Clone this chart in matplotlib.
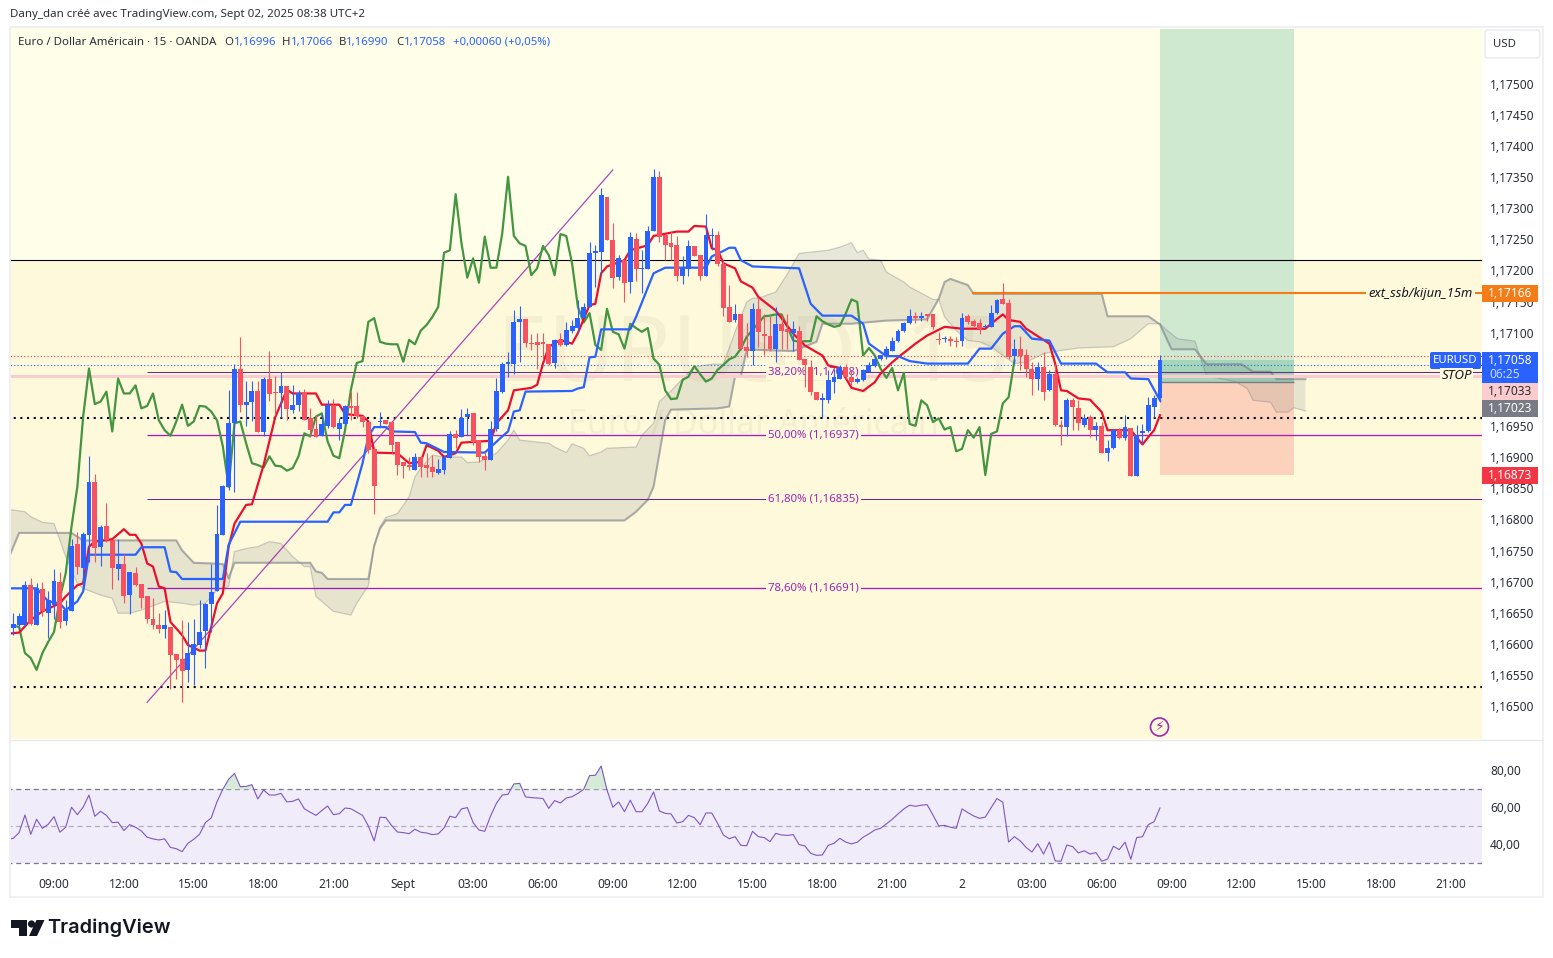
import numpy as np
import matplotlib
matplotlib.use('Agg')
import matplotlib.pyplot as plt
from matplotlib.patches import Rectangle, FancyBboxPatch, Polygon, Circle
from matplotlib.transforms import ScaledTranslation

W, H = 1553, 958

# EURUSD 15 min, prices x 1e5
open_ = [116628,116632,116632,116696,116632,116690,116652,116664,116701,116639,
116655,116762,116724,116777,116862,116758,116791,116769,116722,116730,
116680,116716,116698,116679,116642,116632,116626,116629,116586,116578,
116560,116584,116600,116622,116666,116687,116776,116854,116956,117043,
116986,116990,117008,116942,117027,117006,117004,117016,116978,116986,
117005,116965,116947,116935,116952,116984,116947,116955,116984,116984,
116968,116958,116914,116958,116961,116958,116926,116894,116889,116881,
116902,116889,116886,116876,116881,116900,116939,116934,116966,116973,
116929,116903,116897,116947,117006,117052,117052,117119,117124,117085,
117087,117086,117083,117053,117090,117082,117104,117109,117125,117143,
117230,117231,117320,117250,117191,117218,117183,117252,117204,117204,
117265,117352,117258,117246,117242,117193,117204,117241,117226,117193,
117257,117258,117212,117143,117122,117132,117079,117072,117140,117100,
117097,117076,117115,117107,117101,117105,117059,117046,117007,116994,
116994,117023,117028,117046,117030,117022,117025,117039,117048,117060,
117064,117073,117088,117104,117117,117128,117125,117131,117131,117091,
117091,117091,117089,117088,117128,117120,117117,117110,117110,117133,
117155,117149,117064,117076,117065,117044,117028,117046,117009,117036,
116954,116950,116993,116980,116954,116966,116945,116951,116909,116916,
116946,116932,116948,116871,116940,116943,116983,116996]
close = [116634,116646,116697,116634,116691,116654,116672,116703,116637,116657,
116759,116725,116778,116862,116756,116790,116768,116724,116730,116679,
116717,116696,116676,116642,116632,116626,116632,116584,116576,116558,
116587,116602,116621,116666,116685,116778,116855,116956,117043,116986,
116990,117008,116942,117027,117003,117005,117016,116979,116986,117004,
116961,116945,116934,116955,116986,116950,116957,116984,116980,116968,
116958,116913,116856,116959,116955,116921,116889,116887,116886,116902,
116886,116885,116878,116883,116902,116939,116933,116965,116971,116926,
116902,116897,116947,117008,117051,117054,117119,117124,117085,117083,
117082,117083,117051,117090,117082,117106,117112,117125,117143,117230,
117233,117323,117250,117189,117222,117181,117255,117204,117206,117265,
117352,117256,117242,117239,117193,117206,117241,117225,117193,117258,
117258,117212,117142,117119,117132,117076,117072,117140,117102,117096,
117075,117115,117105,117103,117107,117058,117049,117006,116993,116996,
117025,117030,117046,117030,117022,117028,117041,117049,117059,117065,
117075,117089,117105,117117,117128,117126,117129,117129,117110,117090,
117093,117089,117087,117126,117118,117113,117107,117112,117133,117154,
117147,117062,117076,117064,117043,117028,117046,117007,117036,116953,
116950,116993,116982,116956,116964,116945,116951,116909,116916,116945,
116932,116950,116872,116938,116943,116985,116996,117058]
high = [116651,116651,116703,116707,116700,116701,116686,116722,116717,116672,
116771,116782,116782,116904,116875,116792,116828,116769,116770,116746,
116717,116726,116698,116679,116676,116651,116657,116629,116586,116640,
116637,116641,116672,116668,116730,116825,116857,117010,117051,117095,
117024,117024,117024,117030,117072,117032,117038,117016,117018,117009,
117011,116981,116970,116971,116994,116995,116964,116985,117007,117007,
116968,116958,116920,116975,116962,116958,116926,116894,116902,116908,
116902,116908,116905,116899,116905,116943,116945,116979,116981,116973,
116929,116910,116960,117029,117054,117070,117138,117144,117124,117099,
117101,117101,117083,117091,117101,117119,117122,117154,117150,117247,
117242,117334,117320,117277,117226,117218,117263,117261,117234,117273,
117365,117361,117258,117265,117257,117224,117250,117241,117226,117292,
117269,117265,117218,117178,117148,117132,117117,117150,117159,117132,
117129,117143,117132,117132,117121,117113,117059,117057,117007,117004,
117041,117044,117049,117052,117041,117030,117044,117054,117065,117065,
117081,117095,117108,117119,117139,117135,117135,117132,117132,117103,
117097,117097,117094,117134,117131,117124,117124,117116,117146,117156,
117181,117156,117092,117096,117076,117054,117054,117070,117042,117052,
116962,116996,116996,116993,116971,116969,116958,116958,116929,116947,
116949,116970,116948,116953,116955,116999,117001,117066]
low = [116616,116625,116631,116632,116632,116646,116612,116641,116627,116632,
116655,116714,116691,116734,116734,116727,116766,116690,116704,116667,
116650,116694,116659,116635,116625,116619,116611,116530,116546,116509,
116541,116536,116595,116563,116621,116687,116776,116849,116846,116975,
116952,116960,116942,116936,116992,116970,116966,116961,116973,116976,
116961,116936,116934,116935,116948,116948,116929,116953,116961,116964,
116950,116908,116810,116952,116955,116907,116873,116868,116881,116881,
116870,116870,116870,116875,116875,116900,116917,116934,116937,116921,
116894,116881,116897,116944,117004,117031,117036,117054,117079,117074,
117044,117058,117050,117045,117080,117080,117101,117101,117125,117143,
117175,117194,117250,117173,117186,117151,117166,117184,117165,117204,
117265,117248,117218,117218,117184,117180,117193,117224,117187,117192,
117235,117209,117128,117118,117118,117074,117063,117050,117079,117065,
117073,117054,117076,117076,117073,117057,117014,117001,116993,116965,
116989,117004,117028,117028,117017,117021,117024,117038,117046,117057,
117060,117072,117087,117103,117116,117117,117120,117120,117107,117084,
117087,117081,117079,117080,117116,117111,117100,117110,117110,117132,
117147,117060,117052,117041,117030,117001,117009,116994,117008,116951,
116921,116935,116945,116945,116950,116934,116929,116908,116895,116915,
116931,116929,116872,116871,116923,116942,116966,116990]

tenkan_bar = [-1,0,1,3,5,8,9,11,12,13,14,17,19,20,21,22,23,24,25,26,27,29,30,32,33,35,36,37,38,40,41,43,45,47,48,52,53,56,57,60,61,62,
66,68,70,71,73,74,76,77,82,83,85,86,89,90,91,92,94,96,97,99,100,101,102,105,106,109,110,114,116,117,119,120,121,122,124,125,127,128,
131,134,136,139,140,142,144,146,148,149,151,152,155,157,160,163,167,168,170,171,173,174,178,179,180,181,183,185,187,188,192,194,195,196,197]
tenkan = [116618,116619,116620,116640,116654,116667,116678,116696,116699,116758,116766,116770,116786,116777,116777,116763,116731,116726,116694,116691,116637,116616,116600,116591,116591,116667,116683,116758,116795,116825,116826,116889,116966,117010,117004,117004,116986,116986,116971,116968,116959,116909,
116908,116892,116894,116921,116912,116902,116908,116925,116928,116956,116977,117009,117013,117018,117052,117079,117090,117084,117101,117146,117148,117197,117208,117218,117234,117242,117257,117264,117264,117273,117272,117237,117235,117213,117205,117184,117174,117159,
117137,117100,117081,117065,117049,117045,117013,117008,117022,117036,117054,117062,117084,117097,117111,117108,117108,117116,117131,117122,117119,117108,117084,117052,117009,117008,116996,116994,116974,116945,116945,116922,116934,116945,116969]

kijun_bar = [-1,4,6,8,9,11,12,13,21,22,26,27,28,29,36,37,39,54,55,56,57,58,60,61,62,64,65,69,70,71,74,81,84,85,86,87,88,96,97,98,99,100,101,106,107,110,112,119,120,122,123,124,125,127,
135,137,139,144,146,147,150,152,154,157,164,166,168,170,172,173,175,178,180,186,188,191,192,195,197]
kijun = [116691,116691,116670,116667,116656,116670,116686,116745,116745,116757,116757,116718,116717,116706,116706,116761,116798,116798,116813,116813,116825,116825,116892,116935,116950,116950,116943,116942,116925,116924,116910,116909,116935,116943,116975,116977,117007,117008,117012,117014,117062,117063,117107,117107,117127,117197,117206,117206,117224,117233,117238,117238,117218,117208,
117205,117148,117129,117129,117116,117084,117064,117064,117056,117052,117052,117076,117076,117100,117112,117112,117092,117089,117052,117052,117038,117038,117028,117027,116993]

# first value sits on the bar just left of the visible pane
chikou = [116632,116631,116629,116587,116579,116560,116587,116605,116621,116675,116715,116790,116854,116967,117044,116987,116991,117007,116943,117028,117004,
117004,117017,116980,116984,117004,116961,116945,116936,116959,116986,116952,116959,116984,116983,116975,116961,116919,116854,116956,116959,
116924,116892,116889,116885,116903,116888,116887,116880,116884,116903,116940,116935,116967,116972,116927,116904,116900,116945,117010,117053,
117056,117119,117125,117087,117084,117083,117083,117055,117090,117083,117105,117114,117127,117143,117230,117234,117324,117245,117190,117221,
117182,117256,117206,117206,117261,117352,117257,117245,117241,117194,117205,117241,117226,117194,117260,117257,117213,117143,117118,117133,
117082,117074,117140,117103,117099,117076,117116,117109,117103,117109,117060,117050,117009,116995,116996,117026,117031,117048,117035,117023,
117028,117042,117050,117059,117063,117076,117095,117106,117117,117128,117129,117131,117131,117111,117089,117087,117088,117088,117128,117120,
117115,117111,117113,117132,117155,117151,117065,117077,117065,117044,117029,117045,117009,117037,116955,116952,116993,116985,116958,116964,
116946,116950,116911,116915,116945,116933,116950,116873,116939,116943,116988,116998,117057]

span_a_bar = [-1,2,3,5,7,9,11,12,15,17,18,20,22,26,29,31,33,35,37,38,40,42,44,46,48,50,51,52,55,58,59,61,62,63,64,66,68,69,70,72,74,77,78,80,83,85,86,87,90,92,93,95,96,98,99,101,102,107,108,110,111,113,117,120,122,124,126,127,128,
131,133,135,140,142,144,145,146,147,149,150,153,154,158,159,160,162,164,166,168,170,172,174,177,180,183,189,192,195,197,198,200,203,205,210,212,213,216,217,219,220,222]
span_a = [116818,116814,116806,116797,116795,116742,116699,116691,116680,116675,116651,116651,116656,116670,116667,116664,116667,116688,116694,116750,116755,116758,116766,116763,116742,116726,116726,116678,116654,116648,116667,116695,116760,116790,116805,116811,116838,116870,116884,116905,116902,116902,116893,116894,116908,116929,116945,116929,116926,116924,116918,116909,116923,116916,116904,116910,116916,116918,116937,116956,116991,117008,117047,117051,117051,117103,117151,117157,117157,
117167,117196,117229,117234,117239,117246,117230,117234,117220,117218,117199,117183,117175,117155,117155,117127,117105,117089,117087,117079,117065,117052,117054,117068,117073,117077,117079,117092,117116,117116,117107,117092,117088,117032,117023,117012,116993,116990,116974,116974,116981,116976]

span_b_bar = [-1,1,10,12,28,29,31,34,36,37,38,51,52,53,54,61,62,63,64,105,107,109,110,112,113,121,123,124,125,126,128,134,138,139,144,150,157,159,160,161,164,165,187,188,195,197,199,203,205,211,213,216,217,222]
span_b = [116735,116780,116780,116768,116768,116752,116732,116731,116730,116707,116732,116732,116718,116716,116706,116706,116759,116787,116800,116800,116814,116833,116854,116961,116978,116980,116983,117031,117031,117074,117074,117072,117087,117116,117116,117121,117123,117156,117183,117188,117178,117164,117164,117128,117128,117115,117075,117075,117051,117051,117039,117039,117027,117027]

rsi = [43.0,43.5,46.6,56.1,45.7,53.8,48.9,51.1,55.2,46.8,49.5,60.3,56.3,60.3,66.9,55.4,58.1,55.9,52.0,52.2,47.7,
50.9,49.5,47.5,44.1,43.2,42.6,43.2,38.6,37.9,36.3,40.8,43.0,45.7,52.0,54.5,63.3,70.0,75.4,78.6,71.4,
71.6,72.5,64.8,69.6,66.9,66.9,67.8,63.2,63.5,64.8,59.5,57.6,55.9,58.5,61.0,56.3,56.8,59.9,59.5,57.7,
55.9,50.2,42.1,54.9,54.7,50.4,46.9,46.6,46.0,48.4,46.8,46.4,45.5,45.9,49.1,55.4,54.7,59.4,60.1,52.0,
48.0,47.3,55.6,62.4,66.9,67.3,72.9,73.2,65.9,65.5,65.3,65.0,59.7,63.9,62.6,65.3,66.0,67.8,70.0,77.4,
77.6,82.6,69.6,60.3,63.2,57.9,64.1,57.9,57.9,62.4,68.6,58.3,57.0,56.7,51.8,52.5,55.9,54.7,50.9,57.2,
57.2,51.6,45.3,43.3,44.4,39.7,39.5,47.3,44.4,43.9,41.7,46.2,45.3,45.1,45.5,40.1,39.4,35.4,34.3,34.5,
39.7,40.8,43.5,41.5,40.5,41.4,44.1,45.9,48.0,48.9,51.3,53.8,56.7,59.4,61.4,60.8,61.4,61.7,56.1,50.2,
50.5,49.5,48.9,59.4,57.4,55.6,54.3,55.0,60.1,65.0,63.0,41.5,44.4,42.1,38.6,36.1,40.6,35.0,41.5,31.3,
31.1,39.9,39.0,35.6,36.8,35.0,35.8,31.1,32.3,39.2,37.4,41.4,32.2,43.9,44.4,50.9,52.5,59.9]

price_ticks = [1.165,1.1655,1.166,1.1665,1.167,1.1675,1.168,1.1685,1.169,1.1695,1.17,1.1705,1.171,1.1715,1.172,1.1725,1.173,1.1735,1.174,1.1745,1.175]
rsi_ticks = [40,60,80]
time_bars = [7,19,31,43,55,67,79,91,103,115,127,139,151,163,175,187,199,211,223,235,247]
time_labels = ['09:00','12:00','15:00','18:00','21:00','Sept','03:00','06:00','09:00','12:00','15:00','18:00','21:00','2','03:00','06:00','09:00','12:00','15:00','18:00','21:00']

fib_levels = [1.17038,1.16937,1.16835,1.16691]
fib_labels = ['38,20% (1,17038)','50,00% (1,16937)','61,80% (1,16835)','78,60% (1,16691)']
fib_colors = ['#6f2a86','#a21fb8','#6f2a86','#a21fb8']
fib_widths = [0.75,0.95,0.75,0.95]
fib_start = 23
trend_bar = [23,103]
trend_price = [1.16508,1.17363]
session_top = 1.17218
dotted_levels = [1.16964,1.16532]
red_dot, blue_dot = 1.17064, 1.17049
stop_level = 1.17032
orange_level = 1.17166
orange_start = 164.7
box_left, box_right = 197, 220
entry, take_profit, stop_loss, last_price = 1.17023, 1.1759, 1.16873, 1.17058

BLUE = '#2962ff'
RED = '#f7525f'
PURPLE = '#9c27b0'
TEXT = '#2a2e39'
plt.rcParams['font.family'] = ['Noto Sans', 'DejaVu Sans']

o, h, l, c = [np.array(a) / 1e5 for a in (open_, high, low, close)]
bars = np.arange(len(o))
up = c >= o
colors = np.where(up, BLUE, RED)

fig = plt.figure(figsize=(W / 100, H / 100), dpi=100, facecolor='white')
px_up = ScaledTranslation(0, 1 / 100, fig.dpi_scale_trans)

def rect(x0, y0, x1, y1):
    return [x0 / W, 1 - y1 / H, (x1 - x0) / W, (y1 - y0) / H]

ax = fig.add_axes(rect(10, 28, 1482, 739))
ax.set_xlim(-0.567, 252.33)
ax.set_ylim(1.16449, 1.17591)
ax.set_facecolor('#fffee9')
ax.axhspan(1.16449, session_top, color='#fff9dc', lw=0, zorder=0)
ax.hlines(session_top, -1, 253, color='black', lw=0.8, zorder=2)

# faint symbol watermark
ax.text(0.505, 0.537, 'EURUSD, 15', transform=ax.transAxes, ha='center', va='center', fontsize=66, color='#f4efd0', zorder=0.5)
ax.text(0.505, 0.442, 'Euro / Dollar Américain', transform=ax.transAxes, ha='center', va='center', fontsize=24.5, color='#f4efd0', zorder=0.5)

# long position box
ax.add_patch(Rectangle((box_left, entry), box_right - box_left, take_profit - entry, fc='#cfe8d0', lw=0, zorder=1))
ax.add_patch(Rectangle((box_left, stop_loss), box_right - box_left, entry - stop_loss, fc='#fdd2bc', lw=0, zorder=1))
ax.add_patch(Rectangle((box_left, entry), box_right - box_left, last_price - entry, fc='#a5d6b9', lw=0, zorder=1.1))
ax.hlines(entry, box_left, box_right, color='#787b86', lw=1, zorder=1.2)

# ichimoku cloud, polygon from both spans
ax.fill(np.r_[span_a_bar, span_b_bar[::-1]], np.r_[span_a, span_b[::-1]] / 1e5, fc='#6f7b80', alpha=0.16, lw=0, zorder=1.5)
ax.plot(span_a_bar, np.array(span_a) / 1e5, color='#787b86', alpha=0.35, lw=0.9, zorder=1.6)
ax.plot(span_b_bar, np.array(span_b) / 1e5, color='#787b86', alpha=0.6, lw=1.5, zorder=1.6)

for lev in dotted_levels:
    ax.hlines(lev, -1, 253, color='black', lw=1.5, linestyles=(0, (1, 2.2)), zorder=2)
ax.hlines(red_dot, -1, 253, color='#f23645', lw=0.8, linestyles=(0, (1, 2)), zorder=2)
ax.hlines(blue_dot, -1, 253, color=BLUE, lw=0.8, linestyles=(0, (1, 2)), zorder=2)
ax.hlines(stop_level, -1, 253, color='#f9ccd0', lw=2.2, zorder=1.9)

for lev, lab, col, lw in zip(fib_levels, fib_labels, fib_colors, fib_widths):
    ax.hlines(lev, fib_start, 253, color=col, lw=lw, zorder=2)
    ax.text(129.7, lev, lab, color=PURPLE, fontsize=8.2, va='center', ha='left', zorder=2.5,
            bbox=dict(fc='#fff9dc', ec='none', pad=1.5))
ax.plot(trend_bar, trend_price, color=PURPLE, lw=0.9, alpha=0.85, zorder=2.6)
ax.hlines(orange_level, orange_start, 253, color='#f57c17', lw=1.5, zorder=3)

ax.plot(np.arange(-1, len(chikou) - 1), np.array(chikou) / 1e5, color='#43953f', lw=1.6, zorder=3)
ax.plot(tenkan_bar, np.array(tenkan) / 1e5, color='#ec0f2d', lw=1.6, zorder=3.1)
ax.plot(kijun_bar, np.array(kijun) / 1e5, color=BLUE, lw=1.6, zorder=3.1)

ax.vlines(bars, l, h, colors=colors, lw=0.8, zorder=4)
ax.bar(bars, np.abs(c - o), bottom=np.minimum(o, c), width=0.84, color=colors, lw=0, zorder=4.1)

ax.yaxis.tick_right()
ax.set_yticks(price_ticks)
ax.set_yticklabels([('%.5f' % p).replace('.', ',') for p in price_ticks])
ax.tick_params(axis='y', length=0, pad=5.8, labelsize=8.6, labelcolor=TEXT)
ax.set_xticks([])
for lab in ax.get_yticklabels():
    lab.set_transform(lab.get_transform() + px_up)
for s in ax.spines.values():
    s.set_visible(False)

# RSI pane
ax2 = fig.add_axes(rect(10, 740, 1482, 868))
ax2.set_xlim(ax.get_xlim())
ax2.set_ylim(27.46, 96.65)
ax2.axhspan(30, 70, color='#f0ecf9', lw=0, zorder=0)
ax2.hlines([30, 70], -1, 253, color='#787b86', lw=0.9, linestyles=(0, (4, 3)), zorder=1)
ax2.hlines(50, -1, 253, color='#b2abbd', lw=0.9, linestyles=(0, (4, 3)), zorder=1)
rsi_arr = np.array(rsi)
rsi_bar = np.arange(-1, len(rsi) - 1)
ax2.fill_between(rsi_bar, rsi_arr, 70, where=rsi_arr > 70, interpolate=True, color='#d5ebd8', lw=0, zorder=1.5)
ax2.plot(rsi_bar, rsi_arr, color='#7e57c2', lw=0.8, zorder=2)
ax2.yaxis.tick_right()
ax2.set_yticks(rsi_ticks)
ax2.set_yticklabels(['%d,00' % v for v in rsi_ticks])
ax2.tick_params(axis='y', length=0, pad=5.8, labelsize=8.6, labelcolor=TEXT)
ax2.set_xticks(time_bars)
ax2.set_xticklabels(time_labels)
ax2.tick_params(axis='x', length=0, pad=7.3, labelsize=8.6, labelcolor=TEXT)
ax2.get_xticklabels()[5].set_fontweight('bold')
for lab in ax2.get_yticklabels():
    lab.set_transform(lab.get_transform() + px_up)
for s in ax2.spines.values():
    s.set_visible(False)

# overlay in pixels for frame, badges and header text
ov = fig.add_axes([0, 0, 1, 1], zorder=10)
ov.set_xlim(0, W)
ov.set_ylim(H, 0)
ov.axis('off')
ov.add_patch(Rectangle((10, 27), 1533, 870, fc='none', ec='#eef0f3', lw=1.4))
ov.plot([10, 1543], [739.5, 739.5], color='#e6e8ee', lw=1)

ov.text(10, 14, 'Dany_dan créé avec TradingView.com, Sept 02, 2025 08:38 UTC+2', fontsize=8.3, color=TEXT, va='center')
ov.text(18, 42, 'Euro / Dollar Américain · 15 · OANDA', fontsize=8.3, color=TEXT, va='center')
for x, t in zip([224.5, 282, 338.5, 396], 'OHBC'):
    ov.text(x, 42, t, fontsize=8.2, color=TEXT, va='center')
for x, t in zip([234, 291, 346, 404, 453], ['1,16996', '1,17066', '1,16990', '1,17058', '+0,00060 (+0,05%)']):
    ov.text(x, 42, t, fontsize=8.2, color=BLUE, va='center')

ov.add_patch(FancyBboxPatch((1485, 30), 55, 28, boxstyle='round,pad=0,rounding_size=3', fc='white', ec='#e0e3eb', lw=0.8))
ov.text(1505, 44.5, 'USD', fontsize=8.2, color=TEXT, ha='center', va='center')

badges = [(285, 302, '#f57c17', '1,17166', 'white'),
          (383, 400, '#fccbcd', '1,17033', TEXT),
          (400, 417, '#787b86', '1,17023', 'white'),
          (467, 484, '#f23645', '1,16873', 'white')]
for y0, y1, col, txt, tc in badges:
    ov.add_patch(Rectangle((1482, y0), 56, y1 - y0, fc=col, lw=0))
    ov.text(1510, (y0 + y1) / 2, txt, fontsize=8.6, color=tc, ha='center', va='center')
ov.add_patch(Rectangle((1482, 352), 56, 31, fc=BLUE, lw=0))
ov.text(1510, 360, '1,17058', fontsize=8.6, color='white', ha='center', va='center')
ov.text(1505, 374, '06:25', fontsize=8.6, color='#c9d8ff', ha='center', va='center')
ov.add_patch(FancyBboxPatch((1430, 352), 51, 17, boxstyle='round,pad=0,rounding_size=2', fc=BLUE, lw=0))
ov.text(1455.5, 360.5, 'EURUSD', fontsize=8.2, color='white', ha='center', va='center')
ov.text(1420.5, 293, 'ext_ssb/kijun_15m', fontsize=9.3, style='italic', color='#131722', ha='center', va='center',
        bbox=dict(fc='#fff9dc', ec='none', pad=1.5))
ov.text(1456.5, 375.5, 'STOP', fontsize=9.6, style='italic', weight='bold', color='#131722', ha='center', va='center',
        bbox=dict(fc='#fff9dc', ec='none', pad=1))

# session-break marker
ov.add_patch(Circle((1159.5, 727), 9, fc='none', ec=PURPLE, lw=1.2))
ov.text(1159.5, 727, '⚡', fontsize=10, color=PURPLE, ha='center', va='center', family=['DejaVu Sans'])

# logo
ov.add_patch(Polygon([(11, 920), (27, 920), (27, 936), (19, 936), (19, 928), (11, 928)], fc='#131722', lw=0))
ov.add_patch(Circle((31.5, 924), 3.6, fc='#131722', lw=0))
ov.add_patch(Polygon([(29, 936), (36.5, 920), (44.5, 920), (37, 936)], fc='#131722', lw=0))
ov.text(47.5, 928, 'TradingView', fontsize=14.4, weight='semibold', color='#131722', va='center', family=['Inter'])

fig.savefig('out.png', dpi=100)
